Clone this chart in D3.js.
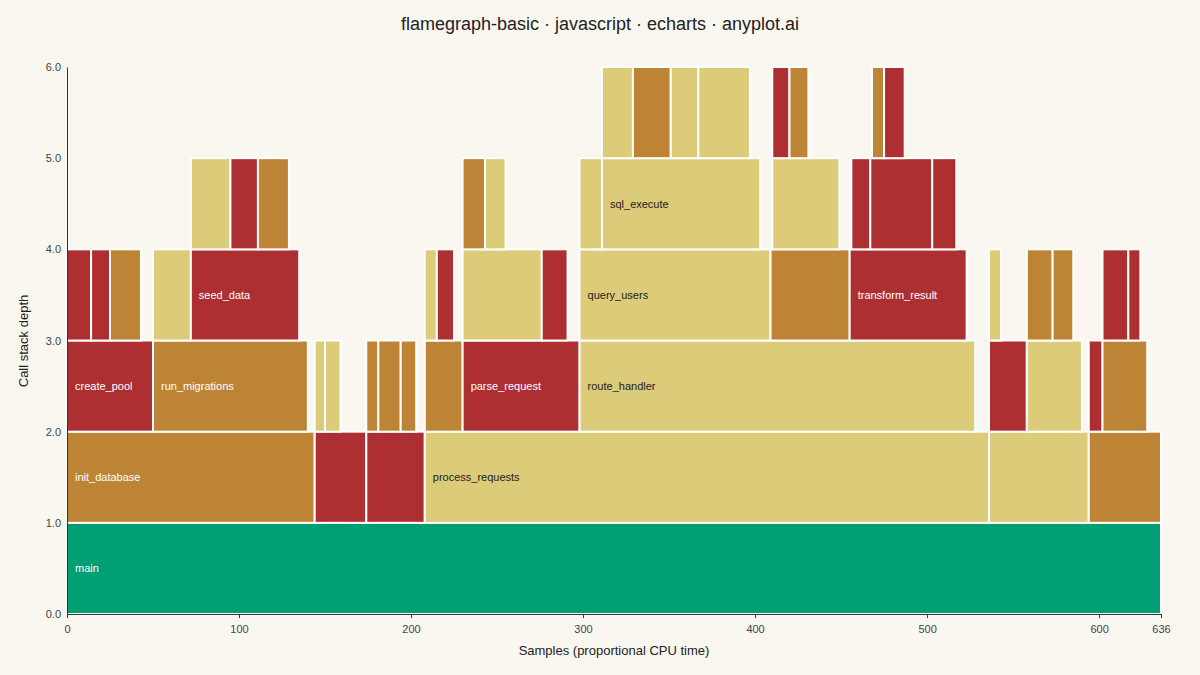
<!DOCTYPE html>
<html><head><meta charset="utf-8">
<script src="https://cdn.jsdelivr.net/npm/d3@7"></script>
<style>body{margin:0;background:#FAF7F1;font-family:"Liberation Sans",Arial,sans-serif}</style>
</head><body><svg id="c" width="1200" height="675"></svg>
<script>
// [start, end, name, colorType]
const level0 = [[0,636,"main","g"]];
const level1 = [[0,144,"init_database","o"],[144,174,"","r"],[174,208,"","r"],[208,536,"process_requests","y"],[536,594,"","y"],[594,636,"","o"]];
const level2 = [[0,50,"create_pool","r"],[50,140,"run_migrations","o"],[144,150,"","y"],[150,159,"","y"],[174,181,"","o"],[181,194,"","o"],[194,203,"","o"],[208,230,"","o"],[230,298,"parse_request","r"],[298,528,"route_handler","y"],[536,558,"","r"],[558,590,"","y"],[594,602,"","r"],[602,628,"","o"]];
const level3 = [[0,14,"","r"],[14,25,"","r"],[25,43,"","o"],[50,72,"","y"],[72,135,"seed_data","r"],[208,215,"","y"],[215,225,"","r"],[230,276,"","y"],[276,291,"","r"],[298,409,"query_users","y"],[409,455,"","o"],[455,523,"transform_result","r"],[536,543,"","y"],[558,573,"","o"],[573,585,"","o"],[602,617,"","r"],[617,624,"","r"]];
const level4 = [[72,95,"","y"],[95,111,"","r"],[111,129,"","o"],[230,243,"","o"],[243,255,"","y"],[298,311,"","y"],[311,403,"sql_execute","y"],[410,449,"","y"],[456,467,"","r"],[467,503,"","r"],[503,517,"","r"]];
const level5 = [[311,329,"","y"],[329,351,"","o"],[351,367,"","y"],[367,397,"","y"],[410,420,"","r"],[420,431,"","o"],[468,475,"","o"],[475,487,"","r"]];
const levels = [level0,level1,level2,level3,level4,level5];
const xTicks = [0,100,200,300,400,500,600,636];
const yTicks = [0,1,2,3,4,5,6];
const colors = {g:"#009E73",r:"#AE2F32",o:"#BE8435",y:"#DCCB78"};

const svg = d3.select("#c");
const x = d3.scaleLinear().domain([0,636]).range([67,1161]);
const y = d3.scaleLinear().domain([0,6]).range([614,67]);

svg.append("text").attr("x",600).attr("y",30).attr("text-anchor","middle").attr("font-size",18).attr("fill","#222")
  .text("flamegraph-basic · javascript · echarts · anyplot.ai");

levels.forEach((lv,d)=>{
  const g = svg.append("g");
  lv.forEach(([s,e,n,c])=>{
    g.append("rect").attr("x",x(s)).attr("y",y(d+1)).attr("width",x(e)-x(s)).attr("height",y(d)-y(d+1))
      .attr("fill",colors[c]).attr("stroke","#fff").attr("stroke-width",2);
    if(n) g.append("text").attr("x",x(s)+8).attr("y",(y(d)+y(d+1))/2+4).attr("font-size",11)
      .attr("fill",c==="y"?"#222":"#fff").text(n);
  });
});

const xa = svg.append("g").attr("transform","translate(0,614)").call(d3.axisBottom(x).tickValues(xTicks).tickFormat(d3.format("d")).tickSize(4));
const ya = svg.append("g").attr("transform","translate(67,0)").call(d3.axisLeft(y).tickValues(yTicks).tickSize(0).tickPadding(6));
[xa,ya].forEach(a=>{a.selectAll("path").attr("stroke","#333");a.selectAll("line").attr("stroke","#333");a.selectAll("text").attr("font-size",11).attr("fill","#444");});
xa.selectAll("text").attr("dy","1.1em");

svg.append("text").attr("x",614).attr("y",655).attr("text-anchor","middle").attr("font-size",13).attr("fill","#222").text("Samples (proportional CPU time)");
svg.append("text").attr("transform","translate(28,341) rotate(-90)").attr("text-anchor","middle").attr("font-size",13).attr("fill","#222").text("Call stack depth");
</script></body></html>
